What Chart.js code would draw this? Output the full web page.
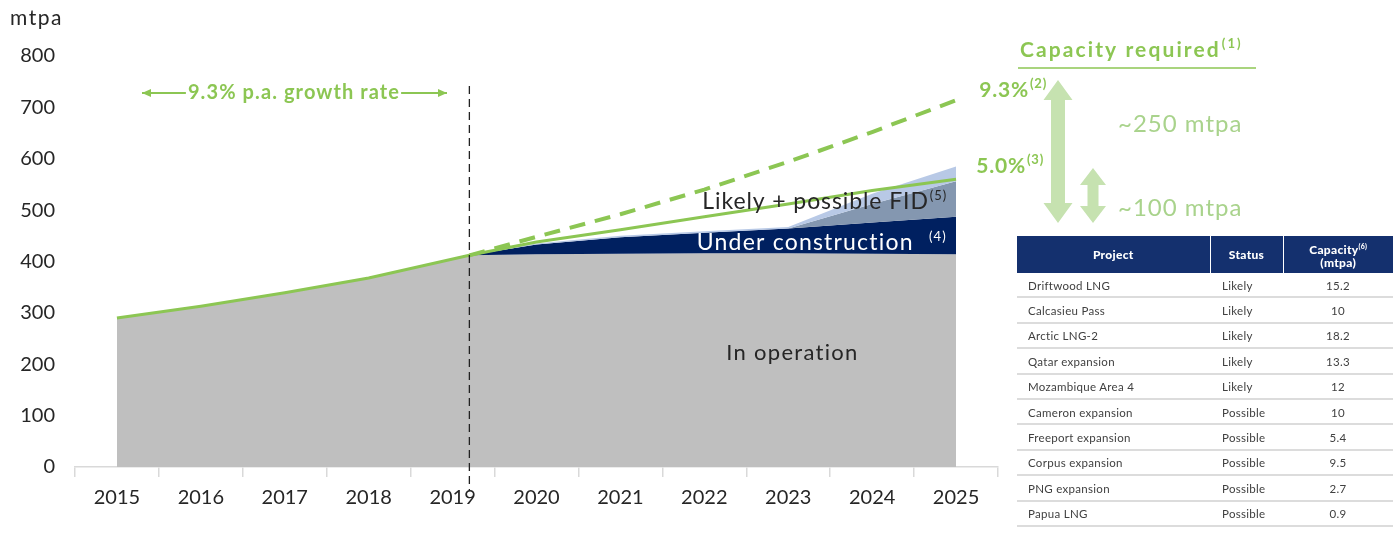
<!DOCTYPE html>
<html>
<head>
<meta charset="utf-8">
<script src="https://cdn.jsdelivr.net/npm/chart.js@4.4.1/dist/chart.umd.min.js"></script>
<style>
  body { margin: 0; background: #fff; }
  #wrap { position: relative; width: 1396px; height: 533px; }
  #chart { position: absolute; left: 0; top: 0; }
  #projects {
    position: absolute; left: 1017px; top: 236px; width: 376px;
    border-collapse: collapse; font-family: Lato, sans-serif; font-size: 11.5px; color: #404040;
    letter-spacing: 0.3px;
  }
  #projects th {
    background: #14306e; color: #fff; font-weight: 900; font-size: 12px;
    height: 37px; padding: 0; border-left: 1px solid #fff; text-align: center; line-height: 13px;
  }
  #projects th:first-child { border-left: none; }
  #projects th sup { font-size: 7px; }
  #projects td { height: 21.4px; padding: 2px 0 0 0; border-bottom: 2px solid #dcdcdc; line-height: 14px; }
  #projects td:nth-child(1) { padding-left: 11px; width: 182px; }
  #projects td:nth-child(2) { padding-left: 12px; width: 61px; }
  #projects td:nth-child(3) { text-align: center; }
</style>
</head>
<body>
<div id="wrap">
  <canvas id="chart" width="1396" height="533"></canvas>
  <table id="projects">
    <thead><tr><th>Project</th><th>Status</th><th>Capacity<sup>(6)</sup><br>(mtpa)</th></tr></thead>
    <tbody></tbody>
  </table>
</div>
<script>
// x positions of the data points (2019.2 marks the split between history and forecast)
const years = [2015, 2016, 2017, 2018, 2019.2, 2020, 2021, 2022, 2023, 2024, 2025];
const yearLabels = ['2015', '2016', '2017', '2018', '2019', '2020', '2021', '2022', '2023', '2024', '2025'];

// capacity layers, mtpa
const inOperation = [290, 313, 339, 368, 412, 414, 415, 416, 416, 415, 414];
const underConstruction = [0, 0, 0, 0, 0, 19, 32, 40, 48, 61, 73];
const likelyFid = [0, 0, 0, 0, 0, 0, 0, 0, 0, 36, 69];
const possibleFid = [0, 0, 0, 0, 0, 2, 3, 3, 3, 20, 29];

// demand scenarios
const growth50 = [290, 313, 339, 368, 412, 438, 462, 487, 512, 538, 560];
const growth93x = [2019.2, 2020, 2021, 2022, 2023, 2024, 2025];
const growth93 = [412, 448, 492, 540, 594, 652, 714];

// project table
const projects = ['Driftwood LNG', 'Calcasieu Pass', 'Arctic LNG-2', 'Qatar expansion', 'Mozambique Area 4',
                  'Cameron expansion', 'Freeport expansion', 'Corpus expansion', 'PNG expansion', 'Papua LNG'];
const statuses = ['Likely', 'Likely', 'Likely', 'Likely', 'Likely', 'Possible', 'Possible', 'Possible', 'Possible', 'Possible'];
const capacities = ['15.2', '10', '18.2', '13.3', '12', '10', '5.4', '9.5', '2.7', '0.9'];

const GREEN = '#8cc653';
const LIGHT_GREEN = '#c6e2b0';
const TEXT_GREEN = '#a9d38c';
const FONT = 'Lato, "Open Sans", sans-serif';

// fill the table
const tbody = document.querySelector('#projects tbody');
projects.forEach((p, i) => {
    const tr = document.createElement('tr');
    [p, statuses[i], capacities[i]].forEach(t => {
        const td = document.createElement('td');
        td.textContent = t;
        tr.appendChild(td);
    });
    tbody.appendChild(tr);
});

// cumulative tops of the stacked layers
function stackOn(base, add) {
    return base.map((v, i) => v + add[i]);
}
const topOperation = inOperation;
const topConstruction = stackOn(topOperation, underConstruction);
const topLikely = stackOn(topConstruction, likelyFid);
const topPossible = stackOn(topLikely, possibleFid);

const pts = (xs, ys) => xs.map((x, i) => ({ x: x, y: ys[i] }));

function area(label, data, color, fill) {
    return {
        label: label, data: pts(years, data), xAxisID: 'xl',
        backgroundColor: color, borderWidth: 0, pointRadius: 0, tension: 0, fill: fill
    };
}

function doubleArrow(ctx, x, y1, y2, shaft, head, headLen, color) {
    ctx.save();
    ctx.fillStyle = color;
    ctx.beginPath();
    ctx.moveTo(x, y1);
    ctx.lineTo(x + head / 2, y1 + headLen);
    ctx.lineTo(x + shaft / 2, y1 + headLen);
    ctx.lineTo(x + shaft / 2, y2 - headLen);
    ctx.lineTo(x + head / 2, y2 - headLen);
    ctx.lineTo(x, y2);
    ctx.lineTo(x - head / 2, y2 - headLen);
    ctx.lineTo(x - shaft / 2, y2 - headLen);
    ctx.lineTo(x - shaft / 2, y1 + headLen);
    ctx.lineTo(x - head / 2, y1 + headLen);
    ctx.closePath();
    ctx.fill();
    ctx.restore();
}

// text with a small raised footnote marker
function supText(ctx, x, y, main, sup, font, supFont, color, align, spacing) {
    ctx.save();
    ctx.fillStyle = color;
    ctx.textBaseline = 'middle';
    ctx.letterSpacing = (spacing || 0) + 'px';
    ctx.font = font;
    const w1 = ctx.measureText(main).width;
    ctx.font = supFont;
    const w2 = ctx.measureText(sup).width;
    let left = x;
    if (align === 'right') left = x - w1 - w2;
    ctx.textAlign = 'left';
    ctx.font = font;
    ctx.fillText(main, left, y);
    ctx.font = supFont;
    ctx.fillText(sup, left + w1 + 1, y - 6);
    ctx.restore();
}

const overlays = {
    id: 'overlays',
    afterDatasetsDraw(chart) {
        const ctx = chart.ctx;
        const xs = chart.scales.xl;
        const ys = chart.scales.y;

        // forecast divider
        const xd = xs.getPixelForValue(2019.2);
        ctx.save();
        ctx.strokeStyle = '#222';
        ctx.lineWidth = 1.3;
        ctx.setLineDash([8, 5]);
        ctx.beginPath();
        ctx.moveTo(xd, 86);
        ctx.lineTo(xd, 491);
        ctx.stroke();
        ctx.restore();

        // layer labels
        ctx.save();
        ctx.textBaseline = 'middle';
        ctx.textAlign = 'center';
        ctx.letterSpacing = '1.3px';
        ctx.font = '22px ' + FONT;
        ctx.fillStyle = '#262626';
        ctx.fillText('In operation', xs.getPixelForValue(2023.05), ys.getPixelForValue(222));
        ctx.restore();
        supText(ctx, 946, 202, 'Likely + possible FID', '(5)', '23px ' + FONT, '13px ' + FONT, '#262626', 'right', 0.9);
        supText(ctx, 946, 243, 'Under construction  ', '(4)', '23px ' + FONT, '13px ' + FONT, '#ffffff', 'right', 1.2);
    },
    afterDraw(chart) {
        const ctx = chart.ctx;
        ctx.save();

        // unit label
        ctx.fillStyle = '#262626';
        ctx.font = '21px ' + FONT;
        ctx.letterSpacing = '1.5px';
        ctx.textBaseline = 'middle';
        ctx.fillText('mtpa', 10, 18);

        // historical growth span
        ctx.strokeStyle = GREEN;
        ctx.fillStyle = GREEN;
        ctx.lineWidth = 2;
        ctx.font = 'bold 20px ' + FONT;
        ctx.letterSpacing = '1.1px';
        ctx.textAlign = 'center';
        ctx.fillText('9.3% p.a. growth rate', 294, 93);
        const tw = ctx.measureText('9.3% p.a. growth rate').width;
        const l1 = 294 - tw / 2 - 2, r1 = 294 + tw / 2 + 1;
        [[l1, 142], [r1, 447]].forEach(([from, to]) => {
            ctx.beginPath();
            ctx.moveTo(from, 93);
            ctx.lineTo(to, 93);
            ctx.stroke();
            const dir = Math.sign(to - from);
            ctx.beginPath();
            ctx.moveTo(to, 93);
            ctx.lineTo(to - dir * 9, 89);
            ctx.lineTo(to - dir * 9, 97);
            ctx.closePath();
            ctx.fill();
        });
        ctx.letterSpacing = '0px';

        // capacity required panel
        supText(ctx, 1020, 50, 'Capacity required', '(1)', 'bold 21px ' + FONT, 'bold 13px ' + FONT, GREEN, 'left', 2.1);
        ctx.strokeStyle = GREEN;
        ctx.lineWidth = 1.5;
        ctx.beginPath();
        ctx.moveTo(1018, 68);
        ctx.lineTo(1256, 68);
        ctx.stroke();

        supText(ctx, 1046, 90, '9.3%', '(2)', 'bold 21px ' + FONT, 'bold 13px ' + FONT, GREEN, 'right', 0.8);
        supText(ctx, 1043, 166, '5.0%', '(3)', 'bold 21px ' + FONT, 'bold 13px ' + FONT, GREEN, 'right', 0.8);

        doubleArrow(ctx, 1058, 80, 223, 14, 29, 20, LIGHT_GREEN);
        doubleArrow(ctx, 1093, 168, 223, 11, 26, 17, LIGHT_GREEN);

        ctx.fillStyle = TEXT_GREEN;
        ctx.textAlign = 'left';
        ctx.font = '24px ' + FONT;
        ctx.letterSpacing = '1px';
        ctx.fillText('~250 mtpa', 1118, 124);
        ctx.fillText('~100 mtpa', 1118, 208);
        ctx.restore();
    }
};

new Chart(document.getElementById('chart'), {
    type: 'line',
    data: {
        datasets: [
            {
                label: '9.3% growth', data: pts(growth93x, growth93), xAxisID: 'xl',
                borderColor: GREEN, borderWidth: 4, borderDash: [16, 10], pointRadius: 0, tension: 0, fill: false
            },
            {
                label: '5.0% growth', data: pts(years, growth50), xAxisID: 'xl',
                borderColor: GREEN, borderWidth: 3, pointRadius: 0, tension: 0, fill: false
            },
            area('Possible FID', topPossible, '#b8c9e6', '+1'),
            area('Likely FID', topLikely, '#8497b0', '+1'),
            area('Under construction', topConstruction, '#002060', '+1'),
            area('In operation', topOperation, '#bfbfbf', 'origin')
        ]
    },
    options: {
        responsive: false,
        animation: false,
        layout: { padding: { top: 56, right: 398, left: 0, bottom: 0 } },
        plugins: { legend: { display: false }, tooltip: { enabled: false } },
        scales: {
            x: {
                type: 'category',
                labels: yearLabels,
                offset: true,
                grid: { offset: true, drawOnChartArea: false, tickLength: 10, color: '#d9d9d9', lineWidth: 1.5 },
                border: { color: '#d9d9d9', width: 1.5 },
                ticks: { color: '#262626', font: { family: FONT, size: 20 }, padding: 9, maxRotation: 0 },
                afterFit: s => { s.height = 66; }
            },
            xl: {
                type: 'linear', display: false, min: 2014.5, max: 2025.5
            },
            y: {
                min: 0, max: 800,
                ticks: { stepSize: 100, color: '#262626', font: { family: FONT, size: 20 }, padding: 12 },
                grid: { display: false },
                border: { display: false },
                afterFit: s => { s.width = 75; }
            }
        }
    },
    plugins: [overlays]
});
</script>
</body>
</html>
